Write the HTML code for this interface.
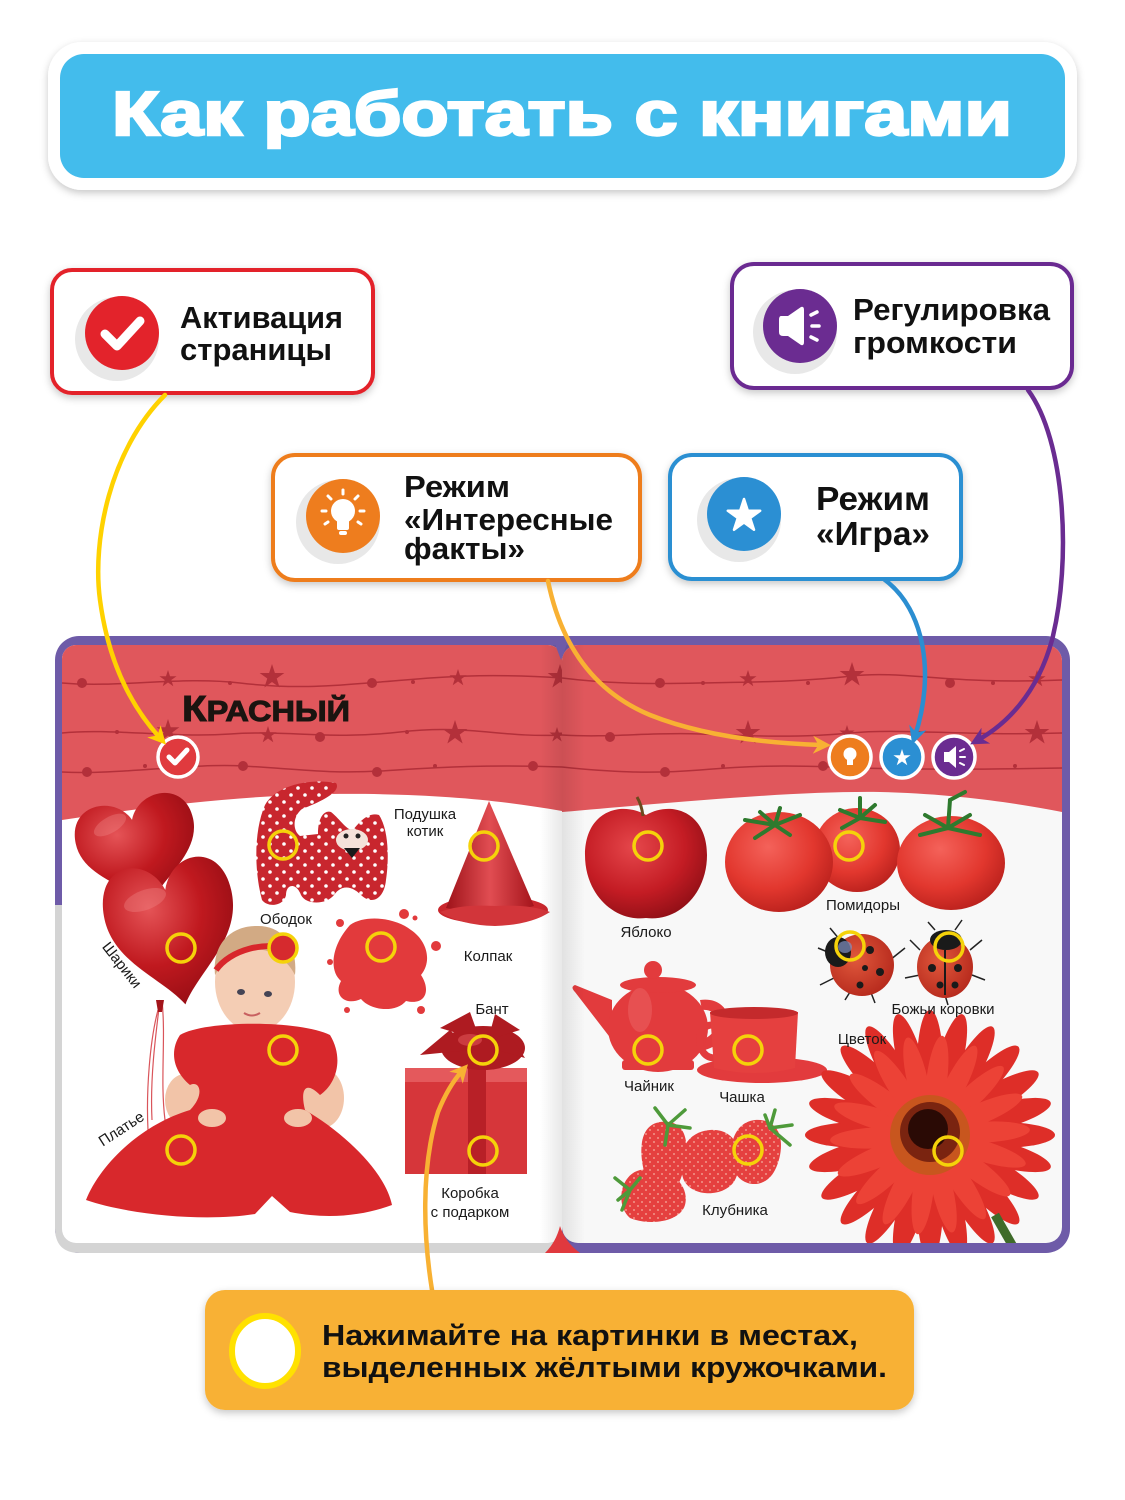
<!DOCTYPE html>
<html><head><meta charset="utf-8">
<style>
html,body{margin:0;padding:0;background:#fff;}
svg{display:block;}
text{font-family:"Liberation Sans","DejaVu Sans",sans-serif;}
</style></head><body>
<svg width="1125" height="1500" viewBox="0 0 1125 1500">
<defs>
<filter id="sh" x="-10%" y="-20%" width="120%" height="150%"><feDropShadow dx="0" dy="3" stdDeviation="4" flood-color="#000" flood-opacity="0.22"/></filter>
<polygon id="st" points="0,-1 0.224,-0.309 0.951,-0.309 0.363,0.118 0.588,0.809 0,0.382 -0.588,0.809 -0.363,0.118 -0.951,-0.309 -0.224,-0.309"/>
<path id="heart" d="M0,-25 C-10,-50 -50,-50 -50,-15 C-50,15 -15,30 0,50 C15,30 50,15 50,-15 C50,-50 10,-50 0,-25 Z"/>
<ellipse id="petal" cx="0" cy="-70" rx="13" ry="55"/>
<radialGradient id="gHeart" cx="0.35" cy="0.3" r="0.8"><stop offset="0" stop-color="#E55457"/><stop offset="0.5" stop-color="#C0191F"/><stop offset="1" stop-color="#8E0B12"/></radialGradient>
<radialGradient id="gApple" cx="0.4" cy="0.35" r="0.7"><stop offset="0" stop-color="#E5474B"/><stop offset="0.6" stop-color="#C41C24"/><stop offset="1" stop-color="#8F0F16"/></radialGradient>
<radialGradient id="gTom" cx="0.4" cy="0.35" r="0.7"><stop offset="0" stop-color="#F4625A"/><stop offset="0.6" stop-color="#E2372E"/><stop offset="1" stop-color="#B8201C"/></radialGradient>
<radialGradient id="gBug" cx="0.4" cy="0.4" r="0.7"><stop offset="0" stop-color="#E0583C"/><stop offset="1" stop-color="#B3261A"/></radialGradient>
<linearGradient id="gHat" x1="0" y1="0" x2="1" y2="0"><stop offset="0" stop-color="#9E1219"/><stop offset="0.5" stop-color="#E14D52"/><stop offset="1" stop-color="#A5141B"/></linearGradient>
<linearGradient id="gSpine" x1="0" y1="0" x2="1" y2="0"><stop offset="0" stop-color="#000" stop-opacity="0"/><stop offset="0.5" stop-color="#000" stop-opacity="0.09"/><stop offset="1" stop-color="#000" stop-opacity="0"/></linearGradient>
<pattern id="dots" width="14" height="14" patternUnits="userSpaceOnUse"><rect width="14" height="14" fill="#C8262E"/><circle cx="4" cy="4" r="1.8" fill="#fff"/><circle cx="11" cy="11" r="1.8" fill="#fff"/></pattern>
<pattern id="seeds" width="8" height="8" patternUnits="userSpaceOnUse"><rect width="8" height="8" fill="#E5403F"/><circle cx="2" cy="2" r="0.9" fill="#F6B0A0"/><circle cx="6" cy="6" r="0.9" fill="#F6B0A0"/></pattern>
<clipPath id="pL"><rect x="62" y="645" width="500" height="598" rx="14"/></clipPath>
<clipPath id="pR"><rect x="562" y="645" width="500" height="598" rx="16"/></clipPath>
<marker id="mY" viewBox="0 0 10 10" refX="5" refY="5" markerWidth="18" markerHeight="18" markerUnits="userSpaceOnUse" orient="auto"><path d="M0,0 L10,5 L0,10 L3,5 Z" fill="#FFD200"/></marker>
<marker id="mO" viewBox="0 0 10 10" refX="5" refY="5" markerWidth="18" markerHeight="18" markerUnits="userSpaceOnUse" orient="auto"><path d="M0,0 L10,5 L0,10 L3,5 Z" fill="#F8B133"/></marker>
<marker id="mB" viewBox="0 0 10 10" refX="5" refY="5" markerWidth="18" markerHeight="18" markerUnits="userSpaceOnUse" orient="auto"><path d="M0,0 L10,5 L0,10 L3,5 Z" fill="#2B8ED1"/></marker>
<marker id="mP" viewBox="0 0 10 10" refX="5" refY="5" markerWidth="18" markerHeight="18" markerUnits="userSpaceOnUse" orient="auto"><path d="M0,0 L10,5 L0,10 L3,5 Z" fill="#6A2C91"/></marker>
</defs>

<!-- Header -->
<rect x="48" y="42" width="1029" height="148" rx="34" fill="#fff" filter="url(#sh)"/>
<rect x="60" y="54" width="1005" height="124" rx="24" fill="#43BCEC"/>
<text x="562" y="135" text-anchor="middle" font-size="62" font-weight="bold" fill="#fff" stroke="#fff" stroke-width="2.5" textLength="900" lengthAdjust="spacingAndGlyphs">Как работать с книгами</text>

<!-- Callout red -->
<rect x="52" y="270" width="321" height="123" rx="20" fill="#fff" stroke="#E3232B" stroke-width="4" filter="url(#sh)"/>
<circle cx="117" cy="339" r="42" fill="#E8E8E8"/>
<circle cx="122" cy="333" r="37" fill="#E3232B"/>
<path d="M105,334 L117,346 L140,321" fill="none" stroke="#fff" stroke-width="9" stroke-linecap="round" stroke-linejoin="round"/>
<text x="180" y="328" font-size="31" font-weight="bold" fill="#111" textLength="163" lengthAdjust="spacingAndGlyphs">Активация</text>
<text x="180" y="360" font-size="31" font-weight="bold" fill="#111" textLength="152" lengthAdjust="spacingAndGlyphs">страницы</text>

<!-- Callout purple -->
<rect x="732" y="264" width="340" height="124" rx="22" fill="#fff" stroke="#6B2C91" stroke-width="4" filter="url(#sh)"/>
<circle cx="795" cy="332" r="42" fill="#E8E8E8"/>
<circle cx="800" cy="326" r="37" fill="#6B2C91"/>
<path d="M781,316 Q779,316 779,320 L779,332 Q779,336 783,336 L788,336 L801,345 Q804,346 804,342 L804,310 Q804,306 801,307 L788,316 Z" fill="#fff"/>
<g stroke="#fff" stroke-width="3.5" stroke-linecap="round"><line x1="811" y1="315" x2="817" y2="312"/><line x1="812" y1="326" x2="819" y2="326"/><line x1="811" y1="337" x2="817" y2="340"/></g>
<text x="853" y="320" font-size="31" font-weight="bold" fill="#111" textLength="197" lengthAdjust="spacingAndGlyphs">Регулировка</text>
<text x="853" y="353" font-size="31" font-weight="bold" fill="#111" textLength="164" lengthAdjust="spacingAndGlyphs">громкости</text>

<!-- Callout orange -->
<rect x="273" y="455" width="367" height="125" rx="22" fill="#fff" stroke="#EE7D1E" stroke-width="4" filter="url(#sh)"/>
<circle cx="338" cy="522" r="42" fill="#E8E8E8"/>
<circle cx="343" cy="516" r="37" fill="#EE7D1E"/>
<circle cx="343" cy="511" r="12" fill="#fff"/>
<rect x="337" y="518" width="12" height="12" rx="2" fill="#fff"/>
<rect x="339" y="531" width="8" height="4" rx="2" fill="#fff"/>
<g stroke="#fff" stroke-width="3" stroke-linecap="round"><line x1="343" y1="490" x2="343" y2="494"/><line x1="328" y1="496" x2="331" y2="499"/><line x1="358" y1="496" x2="355" y2="499"/><line x1="322" y1="511" x2="326" y2="511"/><line x1="364" y1="511" x2="360" y2="511"/><line x1="325" y1="524" x2="328" y2="522"/><line x1="361" y1="524" x2="358" y2="522"/></g>
<text x="404" y="497" font-size="31" font-weight="bold" fill="#111" textLength="106" lengthAdjust="spacingAndGlyphs">Режим</text>
<text x="404" y="530" font-size="31" font-weight="bold" fill="#111" textLength="209" lengthAdjust="spacingAndGlyphs">«Интересные</text>
<text x="404" y="559" font-size="31" font-weight="bold" fill="#111" textLength="121" lengthAdjust="spacingAndGlyphs">факты»</text>

<!-- Callout blue -->
<rect x="670" y="455" width="291" height="124" rx="22" fill="#fff" stroke="#2A8FD2" stroke-width="4" filter="url(#sh)"/>
<circle cx="739" cy="520" r="42" fill="#E8E8E8"/>
<circle cx="744" cy="514" r="37" fill="#2B8FD3"/>
<use href="#st" transform="translate(744,516) scale(17)" fill="#fff" stroke="#fff" stroke-width="0.15" stroke-linejoin="round"/>
<text x="816" y="510" font-size="33" font-weight="bold" fill="#111" textLength="114" lengthAdjust="spacingAndGlyphs">Режим</text>
<text x="816" y="545" font-size="33" font-weight="bold" fill="#111" textLength="114" lengthAdjust="spacingAndGlyphs">«Игра»</text>

<!-- Book frame -->
<rect x="55" y="636" width="1015" height="617" rx="24" fill="#6E5BA8"/>
<path d="M55,905 V1228 Q55,1253 80,1253 H562 V905 Z" fill="#D4D4D4"/>
<rect x="62" y="645" width="500" height="598" rx="14" fill="#fff"/>
<rect x="562" y="645" width="500" height="598" rx="16" fill="#F8F8F8"/>

<!-- Left page -->
<g clip-path="url(#pL)">
<path d="M62,645 H562 V811 C500,800 430,793 330,794 C230,796 140,808 62,820 Z" fill="#E0575C"/>
<g fill="none" stroke="#B3303A" stroke-width="1.5">
<path d="M62,683 C120,688 180,676 240,683 S340,685 380,682 S470,672 562,678"/>
<path d="M62,733 C110,728 170,738 230,734 S330,740 400,732 S500,738 562,735"/>
<path d="M62,772 C120,775 190,763 243,766 S330,774 380,771 S480,764 562,767"/>
</g>
<g fill="#B3303A">
<circle cx="82" cy="683" r="5"/><circle cx="230" cy="683" r="2"/><circle cx="372" cy="683" r="5"/><circle cx="413" cy="682" r="2"/>
<circle cx="117" cy="732" r="2"/><circle cx="320" cy="737" r="5"/><circle cx="407" cy="732" r="2"/>
<circle cx="87" cy="772" r="5"/><circle cx="145" cy="766" r="2"/><circle cx="243" cy="766" r="5"/><circle cx="377" cy="772" r="5"/><circle cx="435" cy="766" r="2"/><circle cx="533" cy="766" r="5"/>
<use href="#st" transform="translate(168,679) scale(9)"/>
<use href="#st" transform="translate(272,677) scale(13)"/>
<use href="#st" transform="translate(458,678) scale(9)"/>
<use href="#st" transform="translate(560,677) scale(13)"/>
<use href="#st" transform="translate(168,731) scale(12)"/>
<use href="#st" transform="translate(268,735) scale(9)"/>
<use href="#st" transform="translate(455,733) scale(13)"/>
<use href="#st" transform="translate(557,735) scale(8)"/>
</g>
<text x="182" y="721" font-size="36" font-weight="bold" fill="#1B1410" stroke="#1B1410" stroke-width="1" textLength="168" lengthAdjust="spacingAndGlyphs">К<tspan font-size="29">РАСНЫЙ</tspan></text>
<circle cx="178" cy="757" r="20" fill="#E03A3E" stroke="#fff" stroke-width="3.5"/>
<path d="M169,757 L175,763 L187,750" fill="none" stroke="#fff" stroke-width="5" stroke-linecap="round" stroke-linejoin="round"/>

<!-- balloons -->
<g stroke="#D9545A" stroke-width="1.2" fill="none"><path d="M160,1000 C155,1040 150,1080 152,1120"/><path d="M162,1000 C166,1040 160,1080 165,1120"/><path d="M158,1010 C150,1040 146,1090 148,1130"/></g>
<use href="#heart" transform="translate(138,848) rotate(-12) scale(1.2,1.15)" fill="url(#gHeart)"/>
<use href="#heart" transform="translate(172,928) rotate(-10) scale(1.3,1.55)" fill="url(#gHeart)"/>
<ellipse cx="145" cy="900" rx="22" ry="10" fill="#F08A8A" opacity="0.35" transform="rotate(-20 145 900)"/>
<ellipse cx="110" cy="825" rx="18" ry="8" fill="#F08A8A" opacity="0.35" transform="rotate(-30 110 825)"/>
<path d="M156,1000 L164,1000 L162,1012 L158,1012 Z" fill="#A3141A"/>

<!-- cat pillow -->
<path d="M262,900 C254,870 254,830 265,805 C276,785 310,778 336,783 C342,792 320,802 302,809 C293,816 292,830 300,836 L318,834 C318,816 325,810 331,812 C341,820 346,830 353,830 C361,820 369,812 379,815 C389,830 389,860 386,880 C384,900 371,905 361,895 C351,885 341,885 334,895 C326,905 306,905 301,895 C296,882 286,884 286,895 C284,906 268,908 262,900 Z" fill="url(#dots)"/>
<ellipse cx="352" cy="840" rx="16" ry="11" fill="#F4E2DA"/>
<path d="M344,848 L360,848 L352,858 Z" fill="#1a1a1a"/>
<circle cx="346" cy="836" r="2.5" fill="#222"/><circle cx="358" cy="836" r="2.5" fill="#222"/>

<!-- party hat -->
<ellipse cx="493" cy="910" rx="55" ry="14" fill="#C9262C"/>
<path d="M489,801 L446,908 Q490,918 534,906 Z" fill="url(#gHat)"/>
<path d="M440,912 Q460,925 495,926 Q530,925 550,912 Q530,904 495,906 Q460,904 440,912 Z" fill="#D2353A"/>

<!-- splash -->
<g fill="#E23A3C">
<path d="M350,925 C366,914 396,918 411,930 C426,940 433,960 421,975 C431,990 426,1006 406,1001 C396,1013 371,1011 361,999 C346,1006 333,996 341,981 C329,971 331,946 350,925 Z"/>
<circle cx="404" cy="914" r="5"/><circle cx="340" cy="923" r="4"/><circle cx="436" cy="946" r="5"/><circle cx="421" cy="1010" r="4"/><circle cx="347" cy="1010" r="3"/><circle cx="330" cy="962" r="3"/><circle cx="415" cy="918" r="2.5"/>
</g>

<!-- baby -->
<ellipse cx="185" cy="1100" rx="20" ry="26" fill="#F2C4A8"/>
<ellipse cx="322" cy="1098" rx="22" ry="30" fill="#F2C4A8"/>
<ellipse cx="255" cy="982" rx="40" ry="50" fill="#F4CDB4"/>
<path d="M215,975 C212,940 235,925 258,926 C282,926 298,945 295,975 C285,955 265,948 255,950 C240,950 225,958 215,975 Z" fill="#D2AA84"/>
<path d="M216,970 C230,950 265,940 294,950" fill="none" stroke="#D8262B" stroke-width="6"/>
<circle cx="283" cy="948" r="14" fill="#D62A2E"/>
<ellipse cx="241" cy="992" rx="4" ry="3" fill="#445"/><ellipse cx="268" cy="994" rx="4" ry="3" fill="#445"/>
<path d="M244,1013 Q252,1018 260,1013" fill="none" stroke="#C86060" stroke-width="2"/>
<path d="M180,1035 C205,1020 300,1020 330,1035 C345,1060 335,1085 320,1095 C305,1080 300,1090 305,1110 C340,1130 385,1170 392,1205 C365,1215 330,1220 290,1212 L272,1196 L255,1214 C205,1222 130,1215 86,1200 C100,1165 140,1125 190,1110 C205,1095 200,1080 190,1085 C172,1070 170,1050 180,1035 Z" fill="#D8282C"/>
<ellipse cx="212" cy="1118" rx="14" ry="9" fill="#F2C4A8"/>
<ellipse cx="298" cy="1118" rx="14" ry="9" fill="#F2C4A8"/>

<!-- gift -->
<rect x="405" y="1068" width="122" height="106" fill="#D6363A"/>
<rect x="405" y="1068" width="122" height="14" fill="#E4595C"/>
<rect x="468" y="1068" width="18" height="106" fill="#B82027"/>
<g fill="#AE1B21">
<ellipse cx="483" cy="1048" rx="42" ry="22"/>
<path d="M420,1055 L450,1030 L470,1050 Z"/><path d="M525,1058 L505,1028 L490,1048 Z"/>
<path d="M440,1028 L470,1012 L480,1040 Z"/><path d="M520,1030 L495,1014 L488,1040 Z"/>
</g>
<ellipse cx="470" cy="1040" rx="12" ry="6" fill="#D74A4F" opacity="0.7"/>
</g>

<!-- Right page -->
<g clip-path="url(#pR)">
<path d="M562,645 H1062 V812 C1020,804 960,794 880,792 C800,791 700,800 562,812 Z" fill="#E0575C"/>
<g fill="none" stroke="#B3303A" stroke-width="1.5">
<path d="M562,678 C610,684 650,684 700,683 S800,682 852,676 S950,685 1062,680"/>
<path d="M562,735 C610,738 650,732 700,734 S800,738 850,733 S960,736 1062,733"/>
<path d="M562,767 C610,772 650,774 700,770 S780,765 830,767 S960,770 1062,768"/>
</g>
<g fill="#B3303A">
<circle cx="660" cy="683" r="5"/><circle cx="703" cy="683" r="2"/><circle cx="808" cy="683" r="2"/><circle cx="950" cy="683" r="5"/><circle cx="993" cy="683" r="2"/>
<circle cx="610" cy="737" r="5"/>
<circle cx="665" cy="772" r="5"/><circle cx="723" cy="766" r="2"/><circle cx="823" cy="766" r="5"/><circle cx="1015" cy="766" r="2"/>
<use href="#st" transform="translate(748,679) scale(9)"/>
<use href="#st" transform="translate(852,675) scale(13)"/>
<use href="#st" transform="translate(1037,679) scale(9)"/>
<use href="#st" transform="translate(748,733) scale(13)"/>
<use href="#st" transform="translate(847,733) scale(8)"/>
<use href="#st" transform="translate(1037,733) scale(13)"/>
</g>
<circle cx="850" cy="757" r="21" fill="#EE7D1E" stroke="#fff" stroke-width="3.5"/>
<circle cx="850" cy="754" r="6.5" fill="#fff"/><rect x="847" y="758" width="6" height="7" fill="#fff"/>
<circle cx="902" cy="757" r="21" fill="#2B8FD3" stroke="#fff" stroke-width="3.5"/>
<use href="#st" transform="translate(902,758) scale(9)" fill="#fff"/>
<circle cx="954" cy="757" r="21" fill="#6B2C91" stroke="#fff" stroke-width="3.5"/>
<path d="M944,752 L949,752 L956,746 L956,768 L949,762 L944,762 Z" fill="#fff"/>
<g stroke="#fff" stroke-width="2" stroke-linecap="round"><line x1="960" y1="751" x2="964" y2="749"/><line x1="960" y1="757" x2="965" y2="757"/><line x1="960" y1="763" x2="964" y2="765"/></g>

<!-- apple -->
<path d="M646,815 C620,800 585,812 585,855 C585,895 615,922 646,918 C677,922 707,895 707,855 C707,812 672,800 646,815 Z" fill="url(#gApple)"/>
<path d="M643,816 C642,808 640,802 637,797" stroke="#6B4A1E" stroke-width="3" fill="none"/>

<!-- tomatoes -->
<ellipse cx="857" cy="850" rx="43" ry="42" fill="url(#gTom)"/>
<ellipse cx="779" cy="862" rx="54" ry="50" fill="url(#gTom)"/>
<ellipse cx="951" cy="863" rx="54" ry="47" fill="url(#gTom)"/>
<g stroke="#2E7A2E" stroke-width="4" stroke-linecap="round" fill="none">
<path d="M775,825 L745,820"/><path d="M775,825 L760,812"/><path d="M775,825 L800,815"/><path d="M775,825 L790,835"/><path d="M775,825 L755,838"/><path d="M775,825 L780,808"/>
<path d="M860,818 L840,810"/><path d="M860,818 L875,805"/><path d="M860,818 L860,798"/><path d="M860,818 L885,822"/><path d="M860,818 L842,828"/>
<path d="M948,828 L925,815"/><path d="M948,828 L970,815"/><path d="M948,828 L950,800"/><path d="M948,828 L980,835"/><path d="M948,828 L920,835"/><path d="M950,800 L965,792"/>
</g>

<!-- ladybugs -->
<g stroke="#222" stroke-width="1.5" fill="none">
<path d="M835,955 L818,948"/><path d="M840,975 L820,985"/><path d="M870,990 L875,1003"/><path d="M890,960 L905,948"/><path d="M850,992 L845,1000"/><path d="M840,940 L830,928"/>
<path d="M920,950 L910,940"/><path d="M920,975 L905,978"/><path d="M970,950 L982,940"/><path d="M972,975 L985,980"/><path d="M945,995 L948,1005"/><path d="M935,930 L928,922"/><path d="M955,930 L962,920"/>
</g>
<ellipse cx="862" cy="965" rx="32" ry="31" fill="url(#gBug)"/>
<ellipse cx="838" cy="952" rx="13" ry="15" fill="#1a1a1a"/>
<ellipse cx="845" cy="947" rx="7" ry="6" fill="#8090C0" opacity="0.7"/>
<g fill="#1a1a1a"><circle cx="870" cy="950" r="4"/><circle cx="880" cy="972" r="4"/><circle cx="860" cy="985" r="3.5"/><circle cx="865" cy="968" r="3"/></g>
<ellipse cx="945" cy="967" rx="28" ry="31" fill="url(#gBug)"/>
<ellipse cx="946" cy="940" rx="16" ry="10" fill="#1a1a1a"/>
<g fill="#1a1a1a"><circle cx="932" cy="968" r="4"/><circle cx="958" cy="968" r="4"/><circle cx="940" cy="985" r="3.5"/><circle cx="955" cy="985" r="3.5"/><rect x="944" y="950" width="2" height="45"/></g>

<!-- teapot -->
<g fill="#E23B3D">
<path d="M612,1000 L575,985 Q570,987 575,992 L612,1040 Z"/>
<path d="M700,1000 C735,995 740,1040 705,1050 L700,1040 C722,1035 722,1008 702,1010 Z"/>
<ellipse cx="658" cy="1028" rx="50" ry="44"/>
<ellipse cx="658" cy="985" rx="38" ry="8"/>
<circle cx="653" cy="970" r="9"/>
<rect x="622" y="1060" width="72" height="10" rx="3"/>
</g>
<ellipse cx="640" cy="1010" rx="12" ry="22" fill="#F07070" opacity="0.4"/>

<!-- cup -->
<ellipse cx="762" cy="1070" rx="65" ry="13" fill="#E23B3D"/>
<path d="M712,1025 C695,1025 695,1058 715,1058" fill="none" stroke="#E23B3D" stroke-width="7"/>
<path d="M710,1012 L798,1012 L795,1068 Q755,1078 714,1068 Z" fill="#E5403F"/>
<ellipse cx="754" cy="1013" rx="44" ry="6" fill="#C42A2C"/>

<!-- strawberries -->
<path d="M660,1122 C690,1118 690,1150 682,1175 C675,1200 650,1200 645,1175 C638,1150 640,1125 660,1122 Z" fill="url(#seeds)"/>
<path d="M755,1120 C785,1118 785,1150 775,1170 C765,1190 740,1188 733,1168 C727,1145 735,1122 755,1120 Z" fill="url(#seeds)"/>
<path d="M710,1130 C740,1128 745,1160 735,1180 C725,1198 690,1198 683,1178 C676,1155 685,1132 710,1130 Z" fill="url(#seeds)"/>
<path d="M640,1170 C670,1165 690,1185 685,1205 C680,1222 650,1226 630,1218 C615,1205 620,1175 640,1170 Z" fill="url(#seeds)"/>
<g stroke="#4E9A3A" stroke-width="3.5" stroke-linecap="round">
<path d="M668,1125 L655,1108"/><path d="M668,1125 L685,1110"/><path d="M668,1125 L690,1128"/><path d="M668,1125 L665,1145"/>
<path d="M770,1128 L775,1110"/><path d="M770,1128 L792,1125"/><path d="M770,1128 L790,1145"/><path d="M770,1128 L765,1115"/>
<path d="M630,1190 L615,1178"/><path d="M630,1190 L618,1200"/><path d="M630,1190 L622,1210"/><path d="M630,1190 L640,1178"/>
</g>

<!-- flower -->
<g transform="translate(930,1135)">
<g fill="#DE2E28">
<use href="#petal" transform="rotate(0)"/><use href="#petal" transform="rotate(15)"/><use href="#petal" transform="rotate(30)"/><use href="#petal" transform="rotate(45)"/><use href="#petal" transform="rotate(60)"/><use href="#petal" transform="rotate(75)"/><use href="#petal" transform="rotate(90)"/><use href="#petal" transform="rotate(105)"/><use href="#petal" transform="rotate(120)"/><use href="#petal" transform="rotate(135)"/><use href="#petal" transform="rotate(150)"/><use href="#petal" transform="rotate(165)"/><use href="#petal" transform="rotate(180)"/><use href="#petal" transform="rotate(195)"/><use href="#petal" transform="rotate(210)"/><use href="#petal" transform="rotate(225)"/><use href="#petal" transform="rotate(240)"/><use href="#petal" transform="rotate(255)"/><use href="#petal" transform="rotate(270)"/><use href="#petal" transform="rotate(285)"/><use href="#petal" transform="rotate(300)"/><use href="#petal" transform="rotate(315)"/><use href="#petal" transform="rotate(330)"/><use href="#petal" transform="rotate(345)"/>
</g>
<g fill="#EC4236" transform="rotate(7) scale(0.8)">
<use href="#petal" transform="rotate(0)"/><use href="#petal" transform="rotate(20)"/><use href="#petal" transform="rotate(40)"/><use href="#petal" transform="rotate(60)"/><use href="#petal" transform="rotate(80)"/><use href="#petal" transform="rotate(100)"/><use href="#petal" transform="rotate(120)"/><use href="#petal" transform="rotate(140)"/><use href="#petal" transform="rotate(160)"/><use href="#petal" transform="rotate(180)"/><use href="#petal" transform="rotate(200)"/><use href="#petal" transform="rotate(220)"/><use href="#petal" transform="rotate(240)"/><use href="#petal" transform="rotate(260)"/><use href="#petal" transform="rotate(280)"/><use href="#petal" transform="rotate(300)"/><use href="#petal" transform="rotate(320)"/><use href="#petal" transform="rotate(340)"/>
</g>
<circle cx="0" cy="0" r="40" fill="#C8561E"/>
<circle cx="0" cy="-3" r="30" fill="#7A2410"/>
<circle cx="-2" cy="-6" r="20" fill="#2A0A05"/>
</g>
<path d="M995,1215 L1015,1250" stroke="#3F6B2A" stroke-width="9"/>
</g>

<!-- spine shading & notches -->
<rect x="540" y="645" width="45" height="598" fill="url(#gSpine)"/>
<path d="M552,636 L570,636 L561,660 Z" fill="#6E5BA8"/>
<path d="M545,1253 Q556,1242 560,1226 Q565,1242 580,1253 Z" fill="#E0393E"/>

<!-- yellow target circles -->
<g fill="none" stroke="#F5D20A" stroke-width="3.5">
<circle cx="283" cy="845" r="14"/><circle cx="484" cy="846" r="14"/><circle cx="181" cy="948" r="14"/><circle cx="283" cy="948" r="14"/><circle cx="381" cy="947" r="14"/><circle cx="283" cy="1050" r="14"/><circle cx="483" cy="1050" r="14"/><circle cx="181" cy="1150" r="14"/><circle cx="483" cy="1151" r="14"/>
<circle cx="648" cy="846" r="14"/><circle cx="849" cy="846" r="14"/><circle cx="850" cy="946" r="14"/><circle cx="949" cy="947" r="14"/><circle cx="648" cy="1050" r="14"/><circle cx="748" cy="1050" r="14"/><circle cx="748" cy="1150" r="14"/><circle cx="948" cy="1151" r="14"/>
</g>

<!-- labels -->
<g font-size="15" fill="#1a1a1a" text-anchor="middle">
<text x="425" y="819">Подушка</text><text x="425" y="836">котик</text>
<text x="286" y="924">Ободок</text>
<text x="488" y="961">Колпак</text>
<text x="492" y="1014">Бант</text>
<text x="470" y="1198">Коробка</text><text x="470" y="1217">с подарком</text>
<text transform="translate(118,968) rotate(52)">Шарики</text>
<text transform="translate(124,1133) rotate(-33)">Платье</text>
<text x="646" y="937">Яблоко</text>
<text x="863" y="910">Помидоры</text>
<text x="943" y="1014">Божьи коровки</text>
<text x="862" y="1044">Цветок</text>
<text x="649" y="1091">Чайник</text>
<text x="742" y="1102">Чашка</text>
<text x="735" y="1215">Клубника</text>
</g>

<!-- connectors -->
<g fill="none" stroke-width="4.5" stroke-linecap="round">
<path d="M165,395 C110,450 92,540 100,600 C108,660 130,705 160,738" stroke="#FFD200" marker-end="url(#mY)"/>
<path d="M548,581 C560,640 590,690 650,715 C700,735 760,743 822,745" stroke="#F8B133" marker-end="url(#mO)"/>
<path d="M885,580 C925,610 935,675 915,736" stroke="#2B8ED1" marker-end="url(#mB)"/>
<path d="M1028,390 C1065,440 1072,560 1052,640 C1037,695 1005,725 978,740" stroke="#6A2C91" marker-end="url(#mP)"/>
<path d="M432,1290 C424,1240 420,1170 438,1112 C446,1092 454,1080 462,1071" stroke="#F8B133" marker-end="url(#mO)"/>
</g>

<!-- bottom banner -->
<rect x="205" y="1290" width="709" height="120" rx="20" fill="#F8B134" filter="url(#sh)"/>
<ellipse cx="265" cy="1351" rx="33" ry="35" fill="#fff" stroke="#FFE100" stroke-width="6"/>
<text x="322" y="1345" font-size="29" font-weight="bold" fill="#111" textLength="536" lengthAdjust="spacingAndGlyphs">Нажимайте на картинки в местах,</text>
<text x="322" y="1377" font-size="29" font-weight="bold" fill="#111" textLength="565" lengthAdjust="spacingAndGlyphs">выделенных жёлтыми кружочками.</text>
</svg>
</body></html>
